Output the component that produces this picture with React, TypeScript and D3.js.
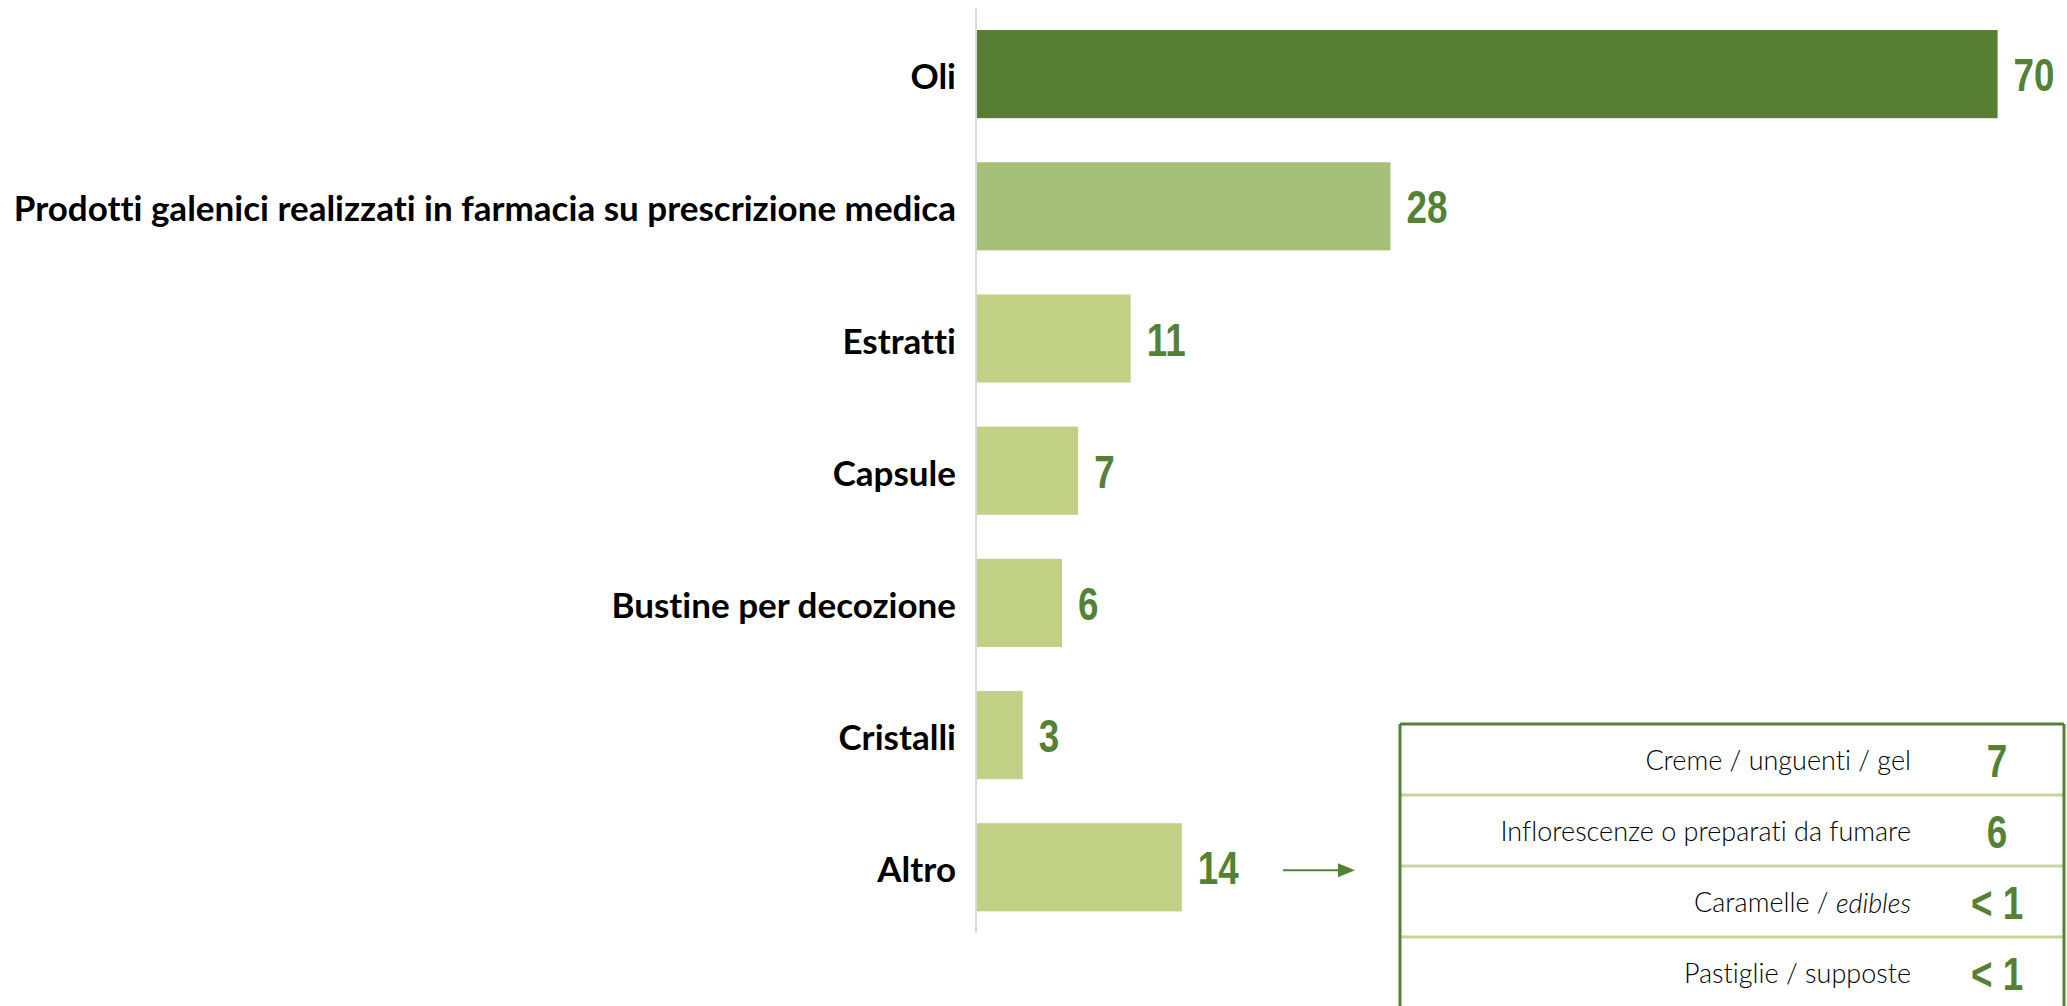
import React from "react";
import * as d3 from "d3";

const categories = [
  "Oli",
  "Prodotti galenici realizzati in farmacia su prescrizione medica",
  "Estratti",
  "Capsule",
  "Bustine per decozione",
  "Cristalli",
  "Altro",
];
const values = [70, 28.4, 10.6, 7.0, 5.9, 3.2, 14.1];
const valueLabels = ["70", "28", "11", "7", "6", "3", "14"];
const barColors = ["#567E33", "#A6C07A", "#C0D084", "#C0D084", "#C0D084", "#C0D084", "#C0D084"];

const altroItems = ["Creme / unguenti / gel", "Inflorescenze o preparati da fumare", "Caramelle / ", "Pastiglie / supposte"];
const altroItalic = ["", "", "edibles", ""];
const altroValues = ["7", "6", "< 1", "< 1"];

const W = 2067;
const H = 1006;
const DARK = "#548235";
const NUM_FONT = "'Liberation Sans', Arial, sans-serif";
const LABEL_FONT = "Lato, 'Noto Sans', sans-serif";
const NUM_SX = 0.8;
const noLig = { fontVariantLigatures: "none" as const, fontFeatureSettings: "'liga' 0, 'clig' 0" };

function NumText({ x, y, anchor, children }: { x: number; y: number; anchor: string; children: React.ReactNode }) {
  return (
    <text
      transform={`translate(${x},${y}) scale(${NUM_SX},1)`}
      textAnchor={anchor}
      dominantBaseline="central"
      fontFamily={NUM_FONT}
      fontWeight={700}
      fontSize={46}
      fill={DARK}
    >
      {children}
    </text>
  );
}

export default function App() {
  const x = d3.scaleLinear().domain([0, 70]).range([976, 1997.6]);
  const y = d3
    .scaleBand<string>()
    .domain(categories)
    .range([8, 933.4])
    .paddingInner(0.3333)
    .paddingOuter(0.1667);

  const tableLeft = 1400;
  const tableRight = 2064;
  const tableTop = 724;
  const rowH = 71;
  const rows = d3.range(altroItems.length);

  const altroY = (y("Altro") ?? 0) + y.bandwidth() / 2;

  return (
    <svg width={W} height={H} style={{ position: "absolute", left: 0, top: 0, background: "#fff" }}>
      {categories.map((c, i) => (
        <g key={c}>
          <rect x={x(0)} y={y(c)} width={x(values[i]) - x(0)} height={y.bandwidth()} fill={barColors[i]} />
          <text
            x={956}
            y={(y(c) ?? 0) + y.bandwidth() / 2 + 1}
            textAnchor="end"
            dominantBaseline="central"
            fontFamily={LABEL_FONT}
            fontWeight={700}
            fontSize={35}
            fill="#000"
            style={noLig}
          >
            {c}
          </text>
          <NumText x={x(values[i]) + 16} y={(y(c) ?? 0) + y.bandwidth() / 2 + 1} anchor="start">
            {valueLabels[i]}
          </NumText>
        </g>
      ))}
      <line x1={976} x2={976} y1={8} y2={933} stroke="#D9D9D9" strokeWidth={2} />

      {/* arrow */}
      <line x1={1283} x2={1340} y1={altroY + 3} y2={altroY + 3} stroke={DARK} strokeWidth={2} />
      <path d={`M1338,${altroY + 3 - 7} L1355,${altroY + 3} L1338,${altroY + 3 + 7} Z`} fill={DARK} />

      {/* table */}
      {rows.slice(1).map((r) => (
        <line
          key={r}
          x1={tableLeft}
          x2={tableRight}
          y1={tableTop + r * rowH}
          y2={tableTop + r * rowH}
          stroke="#C3D69B"
          strokeWidth={3}
        />
      ))}
      <line x1={tableLeft} x2={tableRight} y1={tableTop} y2={tableTop} stroke={DARK} strokeWidth={3} />
      <line x1={tableLeft} x2={tableLeft} y1={tableTop} y2={H + 10} stroke={DARK} strokeWidth={3} />
      <line x1={tableRight} x2={tableRight} y1={tableTop} y2={H + 10} stroke={DARK} strokeWidth={3} />
      {rows.map((r) => {
        const cy = tableTop + r * rowH + rowH / 2;
        return (
          <g key={r}>
            <text
              x={1911}
              y={cy}
              textAnchor="end"
              dominantBaseline="central"
              fontFamily={LABEL_FONT}
              fontWeight={300}
              fontSize={27}
              fill="#000"
              style={noLig}
            >
              {altroItems[r]}
              {altroItalic[r] ? <tspan fontStyle="italic">{altroItalic[r]}</tspan> : null}
            </text>
            <NumText x={1997} y={cy + 1} anchor="middle">
              {altroValues[r]}
            </NumText>
          </g>
        );
      })}
    </svg>
  );
}
